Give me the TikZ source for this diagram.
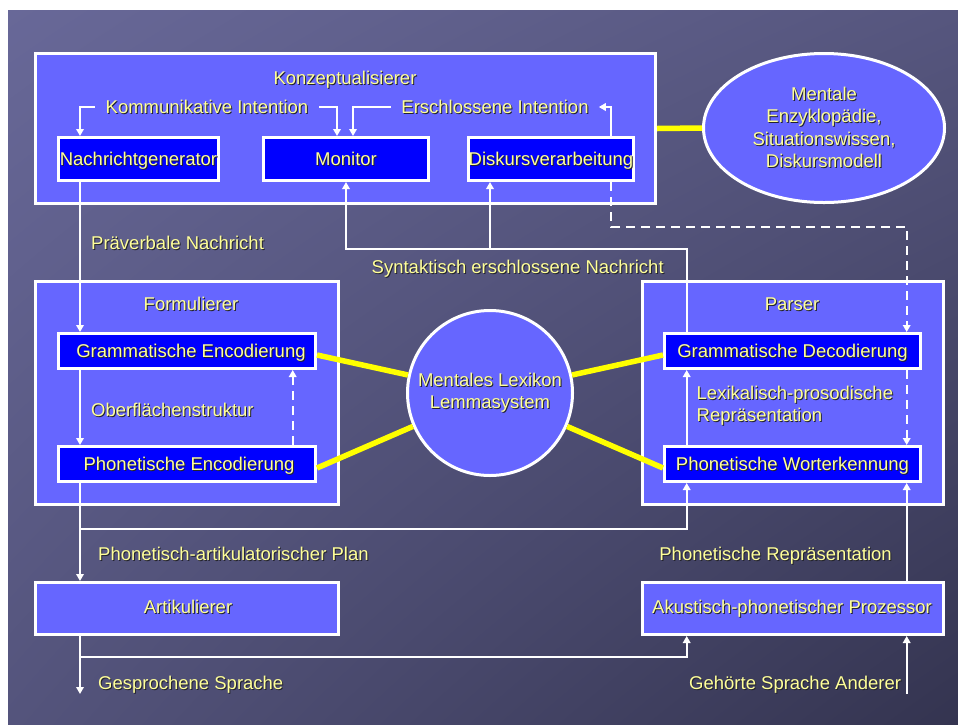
\documentclass[tikz,border=0pt]{standalone}
\usepackage{fontspec}
\setmainfont{Liberation Sans}
\usetikzlibrary{arrows.meta,shapes.geometric,calc,shadings}
\definecolor{boxlight}{RGB}{102,102,255}
\definecolor{boxdark}{RGB}{0,0,255}
\definecolor{txt}{RGB}{255,255,153}
\definecolor{shd}{RGB}{35,35,45}
\definecolor{yel}{RGB}{255,255,0}
\definecolor{bgul}{RGB}{104,104,152}
\definecolor{bgur}{RGB}{86,86,126}
\definecolor{bgll}{RGB}{84,84,124}
\definecolor{bglr}{RGB}{52,52,80}
\newcommand\shtx[1]{\leavevmode\rlap{\kern1pt\raisebox{-1pt}{\color{shd}#1}}#1}
\begin{document}
\begin{tikzpicture}[x=1pt,y=-1pt,
  font=\fontsize{18.5}{22.3}\selectfont,
  fixh/.style={text height=16.8pt, text depth=3.9pt},
  big/.style={draw=white, line width=3pt, fill=boxlight, inner sep=0pt, rectangle},
  innerbox/.style={draw=white, line width=3pt, fill=boxdark, inner sep=0pt, rectangle, text=txt, fixh},
  lbl/.style={text=txt, inner sep=0pt, fixh},
  mlbl/.style={text=txt, inner sep=0pt},
  conn/.style={draw=white, line width=1.8pt},
  arr/.style={conn, -{Triangle[width=7.5pt,length=7pt]}},
  darr/.style={arr, dash pattern=on 9pt off 6pt},
  yline/.style={draw=yel, line width=5.5pt}]
\useasboundingbox (0,0) rectangle (958,724);
\shade[upper left=bgul, upper right=bgur, lower left=bgll, lower right=bglr] (8,10) rectangle (958,724);

\node[big, minimum width=620, minimum height=150] (konz) at (345.5,128.5) {};
\node[big, ellipse, minimum width=241, minimum height=149, align=center, text=txt] (ell) at (824,128)
  {\shtx{Mentale}\\\shtx{Enzyklopädie,}\\\shtx{Situationswissen,}\\\shtx{Diskursmodell}};
\draw[yline] (konz.east) -- (ell.west);

\node[big, minimum width=303, minimum height=223] (form) at (187,393) {};
\node[big, minimum width=301, minimum height=223] (pars) at (793,393) {};
\node[big, minimum width=303, minimum height=52] (art) at (187,608.5) {};
\node[big, minimum width=301, minimum height=52] (akp) at (793,608.5) {};

\node[innerbox, minimum width=160, minimum height=43] (ng) at (138.5,159) {\shtx{Nachrichtgenerator}};
\node[innerbox, minimum width=165, minimum height=43] (mon) at (346,159) {\shtx{Monitor}};
\node[innerbox, minimum width=165, minimum height=43] (dis) at (551,159) {\shtx{Diskursverarbeitung}};

\node[innerbox, minimum width=257, minimum height=35] (ge) at (187,351) {\hspace*{8pt}\shtx{Grammatische Encodierung}};
\node[innerbox, minimum width=257, minimum height=35] (pe) at (187,464) {\hspace*{4pt}\shtx{Phonetische Encodierung}};
\node[innerbox, minimum width=256, minimum height=35] (gd) at (792.5,351) {\shtx{Grammatische Decodierung}};
\node[innerbox, minimum width=256, minimum height=35] (pw) at (792.5,464) {\shtx{Phonetische Worterkennung}};

\node[big, circle, minimum size=165, align=center, text=txt] (lex) at (490,393)
  {\shtx{Mentales Lexikon}\\\shtx{Lemmasystem}};

\draw[yline] ([yshift=-4pt]ge.east) -- (lex);
\draw[yline] ([yshift=-4pt]pe.east) -- (lex);
\draw[yline] ([yshift=-4pt]gd.west) -- (lex);
\draw[yline] ([yshift=-4pt]pw.west) -- (lex);

% titles and labels
\node[lbl] (tk) at (345,78) {\shtx{Konzeptualisierer}};
\node[lbl, inner xsep=11pt] (kom) at (207,107) {\shtx{Kommunikative Intention}};
\node[lbl, inner xsep=10pt] (ers) at (495,107) {\shtx{Erschlossene Intention}};
\node[lbl] (tf) at (191,304) {\shtx{Formulierer}};
\node[lbl] (tp) at (792,304) {\shtx{Parser}};
\node[lbl] (ta) at (188,607.5) {\shtx{Artikulierer}};
\node[lbl] (tak) at (792,607.5) {\shtx{Akustisch-phonetischer Prozessor}};
\node[lbl, anchor=west] (lpv) at (91,243) {\shtx{Präverbale Nachricht}};
\node[lbl, anchor=west] (lsy) at (371.5,267) {\shtx{Syntaktisch erschlossene Nachricht}};
\node[lbl, anchor=west] (lob) at (91,410) {\shtx{Oberflächenstruktur}};
\node[mlbl, anchor=west, align=left] (llp) at (696.5,406) {\shtx{Lexikalisch-prosodische}\\\shtx{Repräsentation}};
\node[lbl, anchor=west] (lpa) at (98,554) {\shtx{Phonetisch-artikulatorischer Plan}};
\node[lbl, anchor=east] (lpr) at (892,554) {\shtx{Phonetische Repräsentation}};
\node[lbl, anchor=west] (lgs) at (98,683) {\shtx{Gesprochene Sprache}};
\node[lbl, anchor=west] (lgh) at (689,683) {\shtx{Gehörte Sprache Anderer}};

% free-end coordinates
\coordinate (j1) at (80,529);
\coordinate (j2) at (80,657);
\coordinate (outsp) at (80,694);
\coordinate (insp) at (906.7,694);

% connectors in the Konzeptualisierer
\draw[arr] (kom.west) -| ([xshift=23pt]ng.north west);
\draw[arr] (kom.east) -| ([xshift=75pt]mon.north west);
\draw[arr] (ers.west) -| ([xshift=91pt]mon.north west);
\draw[arr] ([xshift=144pt]dis.north west) |- (ers.east);

% production path
\draw[arr] ([xshift=23pt]ng.south west) -- ([xshift=23pt]ge.north west);
\draw[arr] ([xshift=23pt]ge.south west) -- ([xshift=23pt]pe.north west);
\draw[darr] ([xshift=235.7pt]pe.north west) -- ([xshift=235.7pt]ge.south west);
\draw[arr] ([xshift=23pt]pe.south west) -- ([xshift=46pt]art.north west);
\draw[arr] (j1) -| ([xshift=23.7pt]pw.south west);
\draw[arr] ([xshift=46pt]art.south west) -- (outsp);
\draw[arr] (j2) -| ([xshift=45.7pt]akp.south west);

% comprehension path
\draw[arr] (insp) -- ([xshift=265.7pt]akp.south west);
\draw[arr] ([xshift=265.7pt]akp.north west) -- ([xshift=243.7pt]pw.south west);
\draw[arr] ([xshift=23.7pt]pw.north west) -- ([xshift=23.7pt]gd.south west);
\draw[arr] ([xshift=23.7pt]gd.north west) |- ([yshift=-67pt]mon.south) -- (mon.south);
\draw[arr] ([xshift=23pt,yshift=-67pt]dis.south west) -- ([xshift=23pt]dis.south west);
\draw[darr] ([xshift=144pt]dis.south west) -- ([xshift=144pt,yshift=-45pt]dis.south west) -| ([xshift=243.7pt]gd.north west);
\draw[darr] ([xshift=243.7pt]gd.south west) -- ([xshift=243.7pt]pw.north west);
\end{tikzpicture}
\end{document}
